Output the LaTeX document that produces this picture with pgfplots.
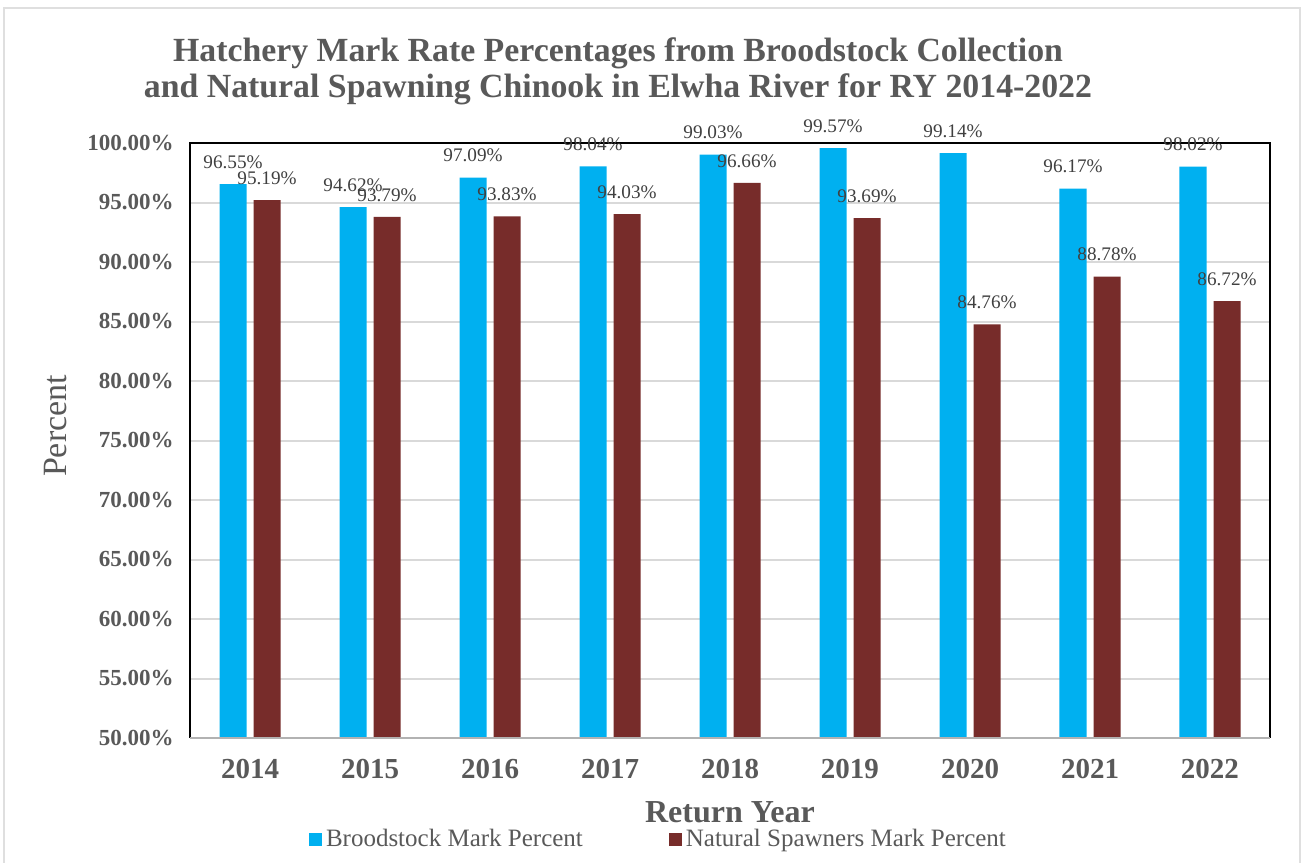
\documentclass[border=0pt]{standalone}
\usepackage{pgfplots}
\pgfplotsset{compat=1.18}
\usepackage{fontspec}
\setmainfont{Liberation Serif}
\definecolor{bblue}{HTML}{00B0F0}
\definecolor{bred}{HTML}{772C2A}
\definecolor{tgray}{HTML}{595959}
\definecolor{lgray}{HTML}{404040}
\definecolor{gridc}{HTML}{D9D9D9}
\begin{document}
\begin{tikzpicture}
\path[use as bounding box] (0,0) rectangle (653pt,431pt);
\fill[white] (0,0) rectangle (653pt,431pt);
\draw[gray!25,line width=1.2pt] (2pt,-5pt) rectangle (650pt,427pt);
\begin{axis}[
  at={(95pt,62pt)}, anchor=south west,
  scale only axis, width=540pt, height=297.5pt,
  ybar=3.5pt, bar width=13.5pt,
  xmin=-0.5, xmax=8.5, ymin=50, ymax=100,
  xtick={0,...,8},
  xticklabels={2014,2015,2016,2017,2018,2019,2020,2021,2022},
  ytick={50,55,...,100},
  /pgf/number format/assume math mode=true,
  yticklabel={\pgfmathprintnumber[fixed,fixed zerofill,precision=2]{\tick}\%},
  major tick length=0pt,
  ymajorgrids, xmajorgrids=false,
  y grid style={draw=gridc, line width=1pt},
  axis line style={draw=none},
  xticklabel style={font=\fontsize{14.5}{16}\selectfont\bfseries, text=tgray, anchor=center, yshift=-15.5pt},
  yticklabel style={font=\fontsize{11.5}{13}\selectfont\bfseries, text=tgray, xshift=-4.7pt},
  clip=false,
  nodes near coords={\pgfmathprintnumber[fixed,fixed zerofill,precision=2]{\pgfplotspointmeta}\%},
  every node near coord/.append style={font=\fontsize{9.6}{11}\selectfont, text=lgray, anchor=center, yshift=11pt},
  legend style={at={(0.4347,-0.1700)}, anchor=center, draw=none, fill=none,
    legend columns=2, font=\fontsize{12.5}{14}\selectfont, text=tgray, inner sep=1pt,
    /tikz/every even column/.append style={column sep=41pt}},
  legend image code/.code={\fill[#1,draw=none] (0pt,-3.25pt) rectangle (6.5pt,3.25pt);},
]
\addplot[fill=bblue, draw=none] coordinates {(0,96.55) (1,94.62) (2,97.09) (3,98.04) (4,99.03) (5,99.57) (6,99.14) (7,96.17) (8,98.02)};
\addplot[fill=bred, draw=none] coordinates {(0,95.19) (1,93.79) (2,93.83) (3,94.03) (4,96.66) (5,93.69) (6,84.76) (7,88.78) (8,86.72)};
\legend{Broodstock Mark Percent, Natural Spawners Mark Percent}
\draw[black, line width=1.2pt] (rel axis cs:0,0) -- (rel axis cs:0,1) -- (rel axis cs:1,1) -- (rel axis cs:1,0);
\draw[gray!60, line width=1.2pt] (rel axis cs:0,0) -- (rel axis cs:1,0);
\end{axis}
\node[font=\fontsize{16.9}{18}\selectfont\bfseries, text=tgray, align=center] at (309pt,395.3pt) {Hatchery Mark Rate Percentages from Broodstock Collection\\and Natural Spawning Chinook in Elwha River for RY 2014-2022};
\node[font=\fontsize{17}{19}\selectfont, text=tgray, rotate=90] at (28pt,218pt) {Percent};
\node[font=\fontsize{16}{18}\selectfont\bfseries, text=tgray, inner sep=1pt] at (365pt,25pt) {Return Year};
\end{tikzpicture}
\end{document}
